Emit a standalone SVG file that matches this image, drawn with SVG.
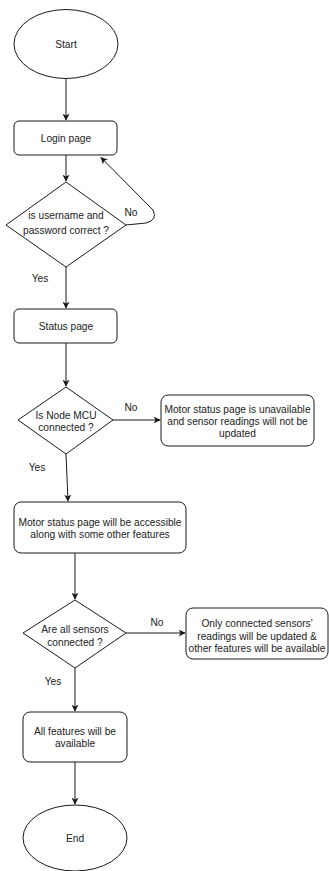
<svg xmlns="http://www.w3.org/2000/svg" width="329" height="871" viewBox="0 0 329 871">
  <style>
    .shape { fill: #ffffff; stroke: #1a1a1a; stroke-width: 1; }
    .edge { fill: none; stroke: #1a1a1a; stroke-width: 1; }
    text { font-family: "Liberation Sans", Arial, sans-serif; font-size: 10.2px; fill: #222222; text-anchor: middle; dominant-baseline: central; }
  </style>
  <defs>
    <marker id="arrow" viewBox="0 0 10 10" refX="9" refY="5" markerWidth="7" markerHeight="7" markerUnits="userSpaceOnUse" orient="auto">
      <path d="M0,0 L10,5 L0,10 L2.5,5 Z" fill="#1a1a1a"/>
    </marker>
  </defs>
  <rect width="329" height="871" fill="#ffffff"/>

  <g id="connectors">
    <line class="edge" x1="66" y1="79" x2="66" y2="120" marker-end="url(#arrow)"/>
    <line class="edge" x1="66" y1="155" x2="66" y2="181" marker-end="url(#arrow)"/>
    <path class="edge" d="M126,225 L146,223 Q158,220 153,210 L101,157.5" marker-end="url(#arrow)"/>
    <line class="edge" x1="66" y1="267" x2="66" y2="308" marker-end="url(#arrow)"/>
    <line class="edge" x1="66" y1="343" x2="66" y2="386" marker-end="url(#arrow)"/>
    <line class="edge" x1="113" y1="420" x2="160" y2="420" marker-end="url(#arrow)"/>
    <line class="edge" x1="66" y1="454" x2="68" y2="501" marker-end="url(#arrow)"/>
    <line class="edge" x1="75" y1="553" x2="75" y2="599" marker-end="url(#arrow)"/>
    <line class="edge" x1="126" y1="633" x2="185" y2="633" marker-end="url(#arrow)"/>
    <line class="edge" x1="75" y1="668" x2="75" y2="711" marker-end="url(#arrow)"/>
    <line class="edge" x1="75" y1="762" x2="75" y2="804" marker-end="url(#arrow)"/>
    <text x="131" y="212">No</text>
    <text x="40" y="278">Yes</text>
    <text x="131" y="407">No</text>
    <text x="37" y="467">Yes</text>
    <text x="157" y="622">No</text>
    <text x="53" y="681">Yes</text>
  </g>

  <g id="start">
    <ellipse class="shape" cx="66" cy="44" rx="52" ry="34.5"/>
    <text x="66" y="44">Start</text>
  </g>

  <g id="login">
    <rect class="shape" x="14" y="121" width="103" height="34" rx="5"/>
    <text x="66" y="138">Login page</text>
  </g>

  <g id="check-credentials">
    <polygon class="shape" points="66,182 126,225 66,267 6,225"/>
    <text x="66" y="215">is username and</text>
    <text x="66" y="230">password correct ?</text>
  </g>

  <g id="status">
    <rect class="shape" x="14" y="309" width="103" height="34" rx="5"/>
    <text x="66" y="326">Status page</text>
  </g>

  <g id="check-mcu">
    <polygon class="shape" points="66,387 113,420 66,454 18,420"/>
    <text x="66" y="415">Is Node MCU</text>
    <text x="66" y="427">connected ?</text>
  </g>

  <g id="motor-unavailable">
    <rect class="shape" x="161" y="395" width="153" height="51" rx="7"/>
    <text x="237.5" y="409">Motor status page is unavailable</text>
    <text x="237.5" y="421">and sensor readings will not be</text>
    <text x="237.5" y="433">updated</text>
  </g>

  <g id="motor-accessible">
    <rect class="shape" x="14" y="502" width="172" height="51" rx="7"/>
    <text x="100" y="522">Motor status page will be accessible</text>
    <text x="100" y="534">along with some other features</text>
  </g>

  <g id="check-sensors">
    <polygon class="shape" points="75,600 126,633 75,668 23,633"/>
    <text x="75" y="629">Are all sensors</text>
    <text x="75" y="642">connected ?</text>
  </g>

  <g id="partial-sensors">
    <rect class="shape" x="186" y="608" width="142" height="51" rx="7"/>
    <text x="257" y="623">Only connected sensors'</text>
    <text x="257" y="636">readings will be updated &amp;</text>
    <text x="257" y="648">other features will be available</text>
  </g>

  <g id="all-features">
    <rect class="shape" x="23" y="712" width="104" height="50" rx="7"/>
    <text x="75" y="731">All features will be</text>
    <text x="75" y="743">available</text>
  </g>

  <g id="end">
    <ellipse class="shape" cx="75" cy="838" rx="52" ry="33"/>
    <text x="75" y="838">End</text>
  </g>
</svg>
